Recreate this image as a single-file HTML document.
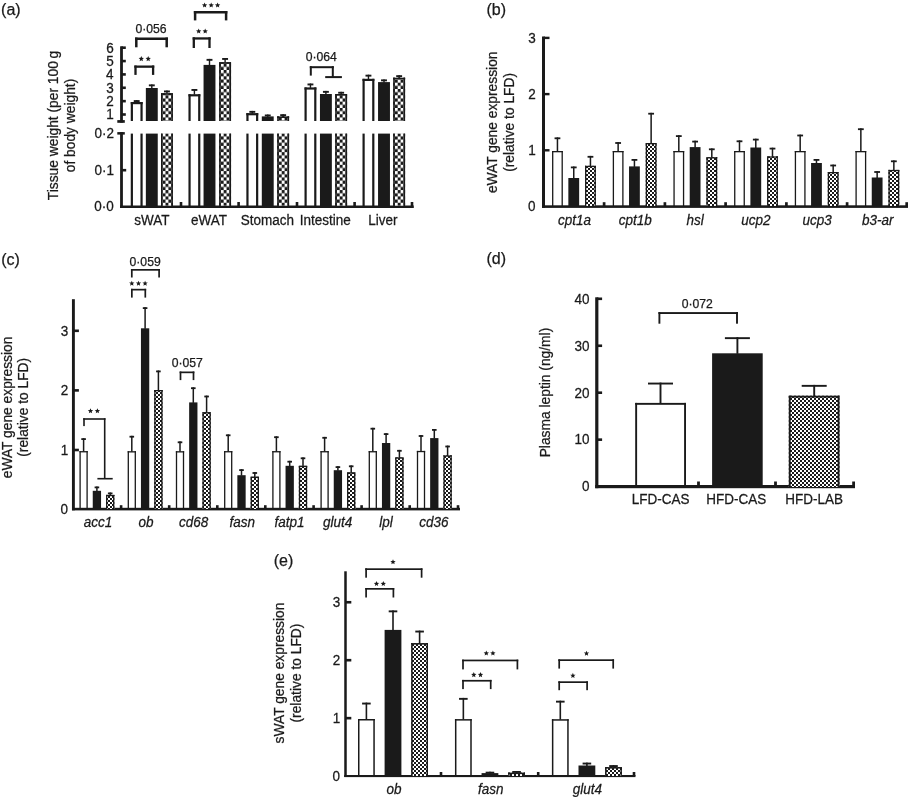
<!DOCTYPE html>
<html><head><meta charset="utf-8"><style>
html,body{margin:0;padding:0;background:#fff;}
svg{display:block;filter:blur(0.35px);}
text{font-family:"Liberation Sans",sans-serif;stroke:#1a1a1a;stroke-width:0.25px;}
</style></head><body>
<svg width="908" height="797" viewBox="0 0 908 797">
<rect width="908" height="797" fill="#fff"/>
<defs><pattern id="chkA0" patternUnits="userSpaceOnUse" x="162.600" y="133.220" width="5.800" height="6.320"><rect width="5.800" height="6.320" fill="#fff"/><rect x="2.900" y="0" width="2.900" height="3.160" fill="#1a1a1a"/><rect x="0" y="3.160" width="2.900" height="3.160" fill="#1a1a1a"/></pattern><pattern id="chkA1" patternUnits="userSpaceOnUse" x="220.750" y="133.220" width="5.800" height="6.320"><rect width="5.800" height="6.320" fill="#fff"/><rect x="2.900" y="0" width="2.900" height="3.160" fill="#1a1a1a"/><rect x="0" y="3.160" width="2.900" height="3.160" fill="#1a1a1a"/></pattern><pattern id="chkA2" patternUnits="userSpaceOnUse" x="278.800" y="133.220" width="5.800" height="6.320"><rect width="5.800" height="6.320" fill="#fff"/><rect x="2.900" y="0" width="2.900" height="3.160" fill="#1a1a1a"/><rect x="0" y="3.160" width="2.900" height="3.160" fill="#1a1a1a"/></pattern><pattern id="chkA3" patternUnits="userSpaceOnUse" x="336.800" y="133.220" width="5.800" height="6.320"><rect width="5.800" height="6.320" fill="#fff"/><rect x="2.900" y="0" width="2.900" height="3.160" fill="#1a1a1a"/><rect x="0" y="3.160" width="2.900" height="3.160" fill="#1a1a1a"/></pattern><pattern id="chkA4" patternUnits="userSpaceOnUse" x="394.800" y="133.220" width="5.800" height="6.320"><rect width="5.800" height="6.320" fill="#fff"/><rect x="2.900" y="0" width="2.900" height="3.160" fill="#1a1a1a"/><rect x="0" y="3.160" width="2.900" height="3.160" fill="#1a1a1a"/></pattern><pattern id="chkA" patternUnits="userSpaceOnUse" width="5.800" height="5.800"><rect width="5.800" height="5.800" fill="#fff"/><rect width="2.900" height="2.900" fill="#1a1a1a"/><rect x="2.900" y="2.900" width="2.900" height="2.900" fill="#1a1a1a"/></pattern><pattern id="chkB" patternUnits="userSpaceOnUse" width="4.000" height="4.000"><rect width="4.000" height="4.000" fill="#fff"/><rect width="2.000" height="2.000" fill="#1a1a1a"/><rect x="2.000" y="2.000" width="2.000" height="2.000" fill="#1a1a1a"/></pattern><pattern id="chkC" patternUnits="userSpaceOnUse" width="4.000" height="4.000"><rect width="4.000" height="4.000" fill="#fff"/><rect width="2.000" height="2.000" fill="#1a1a1a"/><rect x="2.000" y="2.000" width="2.000" height="2.000" fill="#1a1a1a"/></pattern><pattern id="chkD" patternUnits="userSpaceOnUse" width="4.000" height="4.000"><rect width="4.000" height="4.000" fill="#fff"/><rect width="2.000" height="2.000" fill="#1a1a1a"/><rect x="2.000" y="2.000" width="2.000" height="2.000" fill="#1a1a1a"/></pattern><pattern id="chkE" patternUnits="userSpaceOnUse" width="4.000" height="4.000"><rect width="4.000" height="4.000" fill="#fff"/><rect width="2.000" height="2.000" fill="#1a1a1a"/><rect x="2.000" y="2.000" width="2.000" height="2.000" fill="#1a1a1a"/></pattern></defs>
<text x="1.12" y="15.04" font-size="16.00" fill="#1a1a1a">(a)</text>
<text x="486.52" y="15.04" font-size="16.00" fill="#1a1a1a">(b)</text>
<text x="1.18" y="264.79" font-size="16.00" fill="#1a1a1a">(c)</text>
<text x="486.47" y="264.44" font-size="16.00" fill="#1a1a1a">(d)</text>
<text x="273.77" y="565.59" font-size="16.00" fill="#1a1a1a">(e)</text>
<rect x="120.10" y="46.30" width="2.80" height="76.30" fill="#1a1a1a"/>
<rect x="121.50" y="46.40" width="4.30" height="2.60" fill="#1a1a1a"/>
<text x="106.28" y="52.53" font-size="13.50" fill="#1a1a1a" transform="translate(106.28 52.53) scale(1 1.040) translate(-106.28 -52.53)">6</text>
<rect x="121.50" y="59.76" width="4.30" height="2.60" fill="#1a1a1a"/>
<text x="106.25" y="65.82" font-size="13.50" fill="#1a1a1a" transform="translate(106.25 65.82) scale(1 1.040) translate(-106.25 -65.82)">5</text>
<rect x="121.50" y="73.12" width="4.30" height="2.60" fill="#1a1a1a"/>
<text x="106.08" y="79.25" font-size="13.50" fill="#1a1a1a" transform="translate(106.08 79.25) scale(1 1.040) translate(-106.08 -79.25)">4</text>
<rect x="121.50" y="86.48" width="4.30" height="2.60" fill="#1a1a1a"/>
<text x="106.28" y="92.61" font-size="13.50" fill="#1a1a1a" transform="translate(106.28 92.61) scale(1 1.040) translate(-106.28 -92.61)">3</text>
<rect x="121.50" y="99.84" width="4.30" height="2.60" fill="#1a1a1a"/>
<text x="106.38" y="106.04" font-size="13.50" fill="#1a1a1a" transform="translate(106.38 106.04) scale(1 1.040) translate(-106.38 -106.04)">2</text>
<rect x="121.50" y="113.20" width="4.30" height="2.60" fill="#1a1a1a"/>
<text x="106.35" y="119.33" font-size="13.50" fill="#1a1a1a" transform="translate(106.35 119.33) scale(1 1.040) translate(-106.35 -119.33)">1</text>
<rect x="117.30" y="120.10" width="7.50" height="2.70" fill="#1a1a1a"/>
<rect x="117.30" y="132.10" width="7.50" height="2.50" fill="#1a1a1a"/>
<rect x="120.10" y="132.10" width="2.80" height="75.90" fill="#1a1a1a"/>
<text x="94.47" y="138.03" font-size="13.50" fill="#1a1a1a" transform="translate(94.47 138.03) scale(1 1.040) translate(-94.47 -138.03)">0·2</text>
<text x="94.43" y="174.83" font-size="13.50" fill="#1a1a1a" transform="translate(94.43 174.83) scale(1 1.040) translate(-94.43 -174.83)">0·1</text>
<text x="94.30" y="211.43" font-size="13.50" fill="#1a1a1a" transform="translate(94.30 211.43) scale(1 1.040) translate(-94.30 -211.43)">0·0</text>
<rect x="121.50" y="168.90" width="4.70" height="2.60" fill="#1a1a1a"/>
<rect x="120.00" y="205.50" width="293.80" height="2.50" fill="#1a1a1a"/>
<rect x="179.70" y="202.00" width="2.60" height="4.00" fill="#1a1a1a"/>
<rect x="237.30" y="202.00" width="2.60" height="4.00" fill="#1a1a1a"/>
<rect x="295.70" y="202.00" width="2.60" height="4.00" fill="#1a1a1a"/>
<rect x="353.30" y="202.00" width="2.60" height="4.00" fill="#1a1a1a"/>
<rect x="410.70" y="202.00" width="2.60" height="4.00" fill="#1a1a1a"/>
<rect x="130.75" y="102.00" width="2.20" height="19.00" fill="#1a1a1a"/>
<rect x="140.45" y="102.00" width="2.20" height="19.00" fill="#1a1a1a"/>
<rect x="130.75" y="102.00" width="11.90" height="2.20" fill="#1a1a1a"/>
<rect x="130.75" y="133.60" width="2.20" height="72.40" fill="#1a1a1a"/>
<rect x="140.45" y="133.60" width="2.20" height="72.40" fill="#1a1a1a"/>
<rect x="136.00" y="100.10" width="1.40" height="2.40" fill="#1a1a1a"/>
<rect x="133.75" y="100.10" width="5.90" height="1.90" fill="#1a1a1a"/>
<rect x="145.85" y="88.00" width="11.90" height="33.00" fill="#1a1a1a"/>
<rect x="145.85" y="133.60" width="11.90" height="72.40" fill="#1a1a1a"/>
<rect x="151.10" y="84.40" width="1.40" height="4.10" fill="#1a1a1a"/>
<rect x="148.85" y="84.40" width="5.90" height="1.90" fill="#1a1a1a"/>
<rect x="161.00" y="93.20" width="11.90" height="27.80" fill="url(#chkA0)"/>
<rect x="161.00" y="93.20" width="1.60" height="27.80" fill="#1a1a1a"/>
<rect x="171.30" y="93.20" width="1.60" height="27.80" fill="#1a1a1a"/>
<rect x="161.00" y="93.20" width="11.90" height="1.60" fill="#1a1a1a"/>
<rect x="161.00" y="133.60" width="11.90" height="72.40" fill="url(#chkA0)"/>
<rect x="161.00" y="133.60" width="1.60" height="72.40" fill="#1a1a1a"/>
<rect x="171.30" y="133.60" width="1.60" height="72.40" fill="#1a1a1a"/>
<rect x="166.25" y="90.50" width="1.40" height="3.20" fill="#1a1a1a"/>
<rect x="164.00" y="90.50" width="5.90" height="1.90" fill="#1a1a1a"/>
<rect x="188.45" y="94.20" width="2.20" height="26.80" fill="#1a1a1a"/>
<rect x="198.15" y="94.20" width="2.20" height="26.80" fill="#1a1a1a"/>
<rect x="188.45" y="94.20" width="11.90" height="2.20" fill="#1a1a1a"/>
<rect x="188.45" y="133.60" width="2.20" height="72.40" fill="#1a1a1a"/>
<rect x="198.15" y="133.60" width="2.20" height="72.40" fill="#1a1a1a"/>
<rect x="193.70" y="89.00" width="1.40" height="5.70" fill="#1a1a1a"/>
<rect x="191.45" y="89.00" width="5.90" height="1.90" fill="#1a1a1a"/>
<rect x="203.55" y="64.90" width="11.90" height="56.10" fill="#1a1a1a"/>
<rect x="203.55" y="133.60" width="11.90" height="72.40" fill="#1a1a1a"/>
<rect x="208.80" y="58.90" width="1.40" height="6.50" fill="#1a1a1a"/>
<rect x="206.55" y="58.90" width="5.90" height="1.90" fill="#1a1a1a"/>
<rect x="219.15" y="62.20" width="11.90" height="58.80" fill="url(#chkA1)"/>
<rect x="219.15" y="62.20" width="1.60" height="58.80" fill="#1a1a1a"/>
<rect x="229.45" y="62.20" width="1.60" height="58.80" fill="#1a1a1a"/>
<rect x="219.15" y="62.20" width="11.90" height="1.60" fill="#1a1a1a"/>
<rect x="219.15" y="133.60" width="11.90" height="72.40" fill="url(#chkA1)"/>
<rect x="219.15" y="133.60" width="1.60" height="72.40" fill="#1a1a1a"/>
<rect x="229.45" y="133.60" width="1.60" height="72.40" fill="#1a1a1a"/>
<rect x="224.40" y="58.00" width="1.40" height="4.70" fill="#1a1a1a"/>
<rect x="222.15" y="58.00" width="5.90" height="1.90" fill="#1a1a1a"/>
<rect x="246.35" y="113.10" width="2.20" height="7.90" fill="#1a1a1a"/>
<rect x="256.05" y="113.10" width="2.20" height="7.90" fill="#1a1a1a"/>
<rect x="246.35" y="113.10" width="11.90" height="2.20" fill="#1a1a1a"/>
<rect x="246.35" y="133.60" width="2.20" height="72.40" fill="#1a1a1a"/>
<rect x="256.05" y="133.60" width="2.20" height="72.40" fill="#1a1a1a"/>
<rect x="251.60" y="110.90" width="1.40" height="2.70" fill="#1a1a1a"/>
<rect x="249.35" y="110.90" width="5.90" height="1.90" fill="#1a1a1a"/>
<rect x="261.80" y="116.40" width="11.90" height="4.60" fill="#1a1a1a"/>
<rect x="261.80" y="133.60" width="11.90" height="72.40" fill="#1a1a1a"/>
<rect x="267.05" y="114.50" width="1.40" height="2.40" fill="#1a1a1a"/>
<rect x="264.80" y="114.50" width="5.90" height="1.90" fill="#1a1a1a"/>
<rect x="277.20" y="116.40" width="11.90" height="4.60" fill="url(#chkA2)"/>
<rect x="277.20" y="116.40" width="1.60" height="4.60" fill="#1a1a1a"/>
<rect x="287.50" y="116.40" width="1.60" height="4.60" fill="#1a1a1a"/>
<rect x="277.20" y="116.40" width="11.90" height="1.60" fill="#1a1a1a"/>
<rect x="277.20" y="133.60" width="11.90" height="72.40" fill="url(#chkA2)"/>
<rect x="277.20" y="133.60" width="1.60" height="72.40" fill="#1a1a1a"/>
<rect x="287.50" y="133.60" width="1.60" height="72.40" fill="#1a1a1a"/>
<rect x="282.45" y="114.20" width="1.40" height="2.70" fill="#1a1a1a"/>
<rect x="280.20" y="114.20" width="5.90" height="1.90" fill="#1a1a1a"/>
<rect x="304.50" y="87.40" width="2.20" height="33.60" fill="#1a1a1a"/>
<rect x="314.20" y="87.40" width="2.20" height="33.60" fill="#1a1a1a"/>
<rect x="304.50" y="87.40" width="11.90" height="2.20" fill="#1a1a1a"/>
<rect x="304.50" y="133.60" width="2.20" height="72.40" fill="#1a1a1a"/>
<rect x="314.20" y="133.60" width="2.20" height="72.40" fill="#1a1a1a"/>
<rect x="309.75" y="83.50" width="1.40" height="4.40" fill="#1a1a1a"/>
<rect x="307.50" y="83.50" width="5.90" height="1.90" fill="#1a1a1a"/>
<rect x="319.95" y="94.00" width="11.90" height="27.00" fill="#1a1a1a"/>
<rect x="319.95" y="133.60" width="11.90" height="72.40" fill="#1a1a1a"/>
<rect x="325.20" y="90.90" width="1.40" height="3.60" fill="#1a1a1a"/>
<rect x="322.95" y="90.90" width="5.90" height="1.90" fill="#1a1a1a"/>
<rect x="335.20" y="94.00" width="11.90" height="27.00" fill="url(#chkA3)"/>
<rect x="335.20" y="94.00" width="1.60" height="27.00" fill="#1a1a1a"/>
<rect x="345.50" y="94.00" width="1.60" height="27.00" fill="#1a1a1a"/>
<rect x="335.20" y="94.00" width="11.90" height="1.60" fill="#1a1a1a"/>
<rect x="335.20" y="133.60" width="11.90" height="72.40" fill="url(#chkA3)"/>
<rect x="335.20" y="133.60" width="1.60" height="72.40" fill="#1a1a1a"/>
<rect x="345.50" y="133.60" width="1.60" height="72.40" fill="#1a1a1a"/>
<rect x="340.45" y="91.80" width="1.40" height="2.70" fill="#1a1a1a"/>
<rect x="338.20" y="91.80" width="5.90" height="1.90" fill="#1a1a1a"/>
<rect x="362.50" y="78.80" width="2.20" height="42.20" fill="#1a1a1a"/>
<rect x="372.20" y="78.80" width="2.20" height="42.20" fill="#1a1a1a"/>
<rect x="362.50" y="78.80" width="11.90" height="2.20" fill="#1a1a1a"/>
<rect x="362.50" y="133.60" width="2.20" height="72.40" fill="#1a1a1a"/>
<rect x="372.20" y="133.60" width="2.20" height="72.40" fill="#1a1a1a"/>
<rect x="367.75" y="74.70" width="1.40" height="4.60" fill="#1a1a1a"/>
<rect x="365.50" y="74.70" width="5.90" height="1.90" fill="#1a1a1a"/>
<rect x="378.05" y="82.10" width="11.90" height="38.90" fill="#1a1a1a"/>
<rect x="378.05" y="133.60" width="11.90" height="72.40" fill="#1a1a1a"/>
<rect x="383.30" y="79.40" width="1.40" height="3.20" fill="#1a1a1a"/>
<rect x="381.05" y="79.40" width="5.90" height="1.90" fill="#1a1a1a"/>
<rect x="393.20" y="77.70" width="11.90" height="43.30" fill="url(#chkA4)"/>
<rect x="393.20" y="77.70" width="1.60" height="43.30" fill="#1a1a1a"/>
<rect x="403.50" y="77.70" width="1.60" height="43.30" fill="#1a1a1a"/>
<rect x="393.20" y="77.70" width="11.90" height="1.60" fill="#1a1a1a"/>
<rect x="393.20" y="133.60" width="11.90" height="72.40" fill="url(#chkA4)"/>
<rect x="393.20" y="133.60" width="1.60" height="72.40" fill="#1a1a1a"/>
<rect x="403.50" y="133.60" width="1.60" height="72.40" fill="#1a1a1a"/>
<rect x="398.45" y="75.20" width="1.40" height="3.00" fill="#1a1a1a"/>
<rect x="396.20" y="75.20" width="5.90" height="1.90" fill="#1a1a1a"/>
<text x="134.25" y="224.60" font-size="13.50" fill="#1a1a1a" transform="translate(134.25 224.60) scale(1 1.040) translate(-134.25 -224.60)">sWAT</text>
<text x="190.98" y="224.60" font-size="13.50" fill="#1a1a1a" transform="translate(190.98 224.60) scale(1 1.040) translate(-190.98 -224.60)">eWAT</text>
<text x="240.71" y="224.60" font-size="13.50" fill="#1a1a1a" transform="translate(240.71 224.60) scale(1 1.040) translate(-240.71 -224.60)">Stomach</text>
<text x="299.85" y="224.60" font-size="13.50" fill="#1a1a1a" transform="translate(299.85 224.60) scale(1 1.040) translate(-299.85 -224.60)">Intestine</text>
<text x="368.31" y="224.60" font-size="13.50" fill="#1a1a1a" transform="translate(368.31 224.60) scale(1 1.040) translate(-368.31 -224.60)">Liver</text>
<text x="58.20" y="200.19" font-size="13.80" fill="#1a1a1a" transform="rotate(-90 58.20 200.19)">Tissue weight (per 100 g</text>
<text x="74.87" y="172.26" font-size="13.80" fill="#1a1a1a" transform="rotate(-90 74.87 172.26)">of body weight)</text>
<rect x="134.35" y="65.50" width="19.90" height="2.30" fill="#1a1a1a"/>
<rect x="134.35" y="65.50" width="2.30" height="9.40" fill="#1a1a1a"/>
<rect x="151.95" y="65.50" width="2.30" height="9.40" fill="#1a1a1a"/>
<polygon points="141.30,56.07 142.04,57.85 143.96,58.00 142.50,59.26 142.95,61.13 141.30,60.13 139.65,61.13 140.10,59.26 138.64,58.00 140.56,57.85" fill="#1a1a1a"/>
<polygon points="148.20,56.07 148.94,57.85 150.86,58.00 149.40,59.26 149.85,61.13 148.20,60.13 146.55,61.13 147.00,59.26 145.54,58.00 147.46,57.85" fill="#1a1a1a"/>
<rect x="135.05" y="37.50" width="32.90" height="2.50" fill="#1a1a1a"/>
<rect x="135.05" y="37.50" width="2.50" height="9.80" fill="#1a1a1a"/>
<rect x="165.45" y="37.50" width="2.50" height="9.80" fill="#1a1a1a"/>
<text x="135.46" y="32.81" font-size="12.20" fill="#1a1a1a">0·056</text>
<rect x="192.65" y="37.30" width="18.00" height="2.30" fill="#1a1a1a"/>
<rect x="192.65" y="37.30" width="2.30" height="10.70" fill="#1a1a1a"/>
<rect x="208.35" y="37.30" width="2.30" height="10.70" fill="#1a1a1a"/>
<polygon points="198.70,28.47 199.44,30.25 201.36,30.40 199.90,31.66 200.35,33.53 198.70,32.53 197.05,33.53 197.50,31.66 196.04,30.40 197.96,30.25" fill="#1a1a1a"/>
<polygon points="205.20,28.47 205.94,30.25 207.86,30.40 206.40,31.66 206.85,33.53 205.20,32.53 203.55,33.53 204.00,31.66 202.54,30.40 204.46,30.25" fill="#1a1a1a"/>
<rect x="193.85" y="11.00" width="33.50" height="2.50" fill="#1a1a1a"/>
<rect x="193.85" y="11.00" width="2.50" height="9.40" fill="#1a1a1a"/>
<rect x="224.85" y="11.00" width="2.50" height="9.40" fill="#1a1a1a"/>
<polygon points="204.60,2.47 205.34,4.25 207.26,4.40 205.80,5.66 206.25,7.53 204.60,6.53 202.95,7.53 203.40,5.66 201.94,4.40 203.86,4.25" fill="#1a1a1a"/>
<polygon points="211.20,2.47 211.94,4.25 213.86,4.40 212.40,5.66 212.85,7.53 211.20,6.53 209.55,7.53 210.00,5.66 208.54,4.40 210.46,4.25" fill="#1a1a1a"/>
<polygon points="217.60,2.47 218.34,4.25 220.26,4.40 218.80,5.66 219.25,7.53 217.60,6.53 215.95,7.53 216.40,5.66 214.94,4.40 216.86,4.25" fill="#1a1a1a"/>
<rect x="309.80" y="66.20" width="24.00" height="2.00" fill="#1a1a1a"/>
<rect x="309.80" y="66.20" width="2.00" height="9.40" fill="#1a1a1a"/>
<rect x="331.80" y="66.20" width="2.00" height="11.30" fill="#1a1a1a"/>
<rect x="325.20" y="76.10" width="16.70" height="2.00" fill="#1a1a1a"/>
<text x="305.67" y="61.41" font-size="12.20" fill="#1a1a1a">0·064</text>
<rect x="542.00" y="36.50" width="3.00" height="171.30" fill="#1a1a1a"/>
<rect x="543.50" y="36.70" width="6.00" height="2.40" fill="#1a1a1a"/>
<text x="528.18" y="42.73" font-size="13.50" fill="#1a1a1a" transform="translate(528.18 42.73) scale(1 1.040) translate(-528.18 -42.73)">3</text>
<rect x="543.50" y="92.90" width="6.00" height="2.40" fill="#1a1a1a"/>
<text x="528.28" y="99.00" font-size="13.50" fill="#1a1a1a" transform="translate(528.28 99.00) scale(1 1.040) translate(-528.28 -99.00)">2</text>
<rect x="543.50" y="149.10" width="6.00" height="2.40" fill="#1a1a1a"/>
<text x="528.25" y="155.13" font-size="13.50" fill="#1a1a1a" transform="translate(528.25 155.13) scale(1 1.040) translate(-528.25 -155.13)">1</text>
<text x="528.11" y="211.13" font-size="13.50" fill="#1a1a1a" transform="translate(528.11 211.13) scale(1 1.040) translate(-528.11 -211.13)">0</text>
<rect x="542.00" y="205.30" width="366.00" height="2.60" fill="#1a1a1a"/>
<rect x="602.75" y="202.20" width="2.70" height="3.80" fill="#1a1a1a"/>
<rect x="663.55" y="202.20" width="2.70" height="3.80" fill="#1a1a1a"/>
<rect x="724.25" y="202.20" width="2.70" height="3.80" fill="#1a1a1a"/>
<rect x="785.05" y="202.20" width="2.70" height="3.80" fill="#1a1a1a"/>
<rect x="845.75" y="202.20" width="2.70" height="3.80" fill="#1a1a1a"/>
<rect x="905.35" y="202.20" width="2.70" height="3.80" fill="#1a1a1a"/>
<rect x="552.05" y="151.00" width="1.30" height="55.00" fill="#1a1a1a"/>
<rect x="561.55" y="151.00" width="1.30" height="55.00" fill="#1a1a1a"/>
<rect x="552.05" y="151.00" width="10.80" height="1.30" fill="#1a1a1a"/>
<rect x="556.70" y="137.40" width="1.50" height="14.10" fill="#1a1a1a"/>
<rect x="554.55" y="137.40" width="5.80" height="1.80" fill="#1a1a1a"/>
<rect x="568.35" y="178.00" width="10.80" height="28.00" fill="#1a1a1a"/>
<rect x="573.00" y="166.50" width="1.50" height="12.00" fill="#1a1a1a"/>
<rect x="570.85" y="166.50" width="5.80" height="1.80" fill="#1a1a1a"/>
<rect x="585.05" y="165.80" width="10.80" height="40.20" fill="url(#chkB)"/>
<rect x="585.05" y="165.80" width="1.30" height="40.20" fill="#1a1a1a"/>
<rect x="594.55" y="165.80" width="1.30" height="40.20" fill="#1a1a1a"/>
<rect x="585.05" y="165.80" width="10.80" height="1.30" fill="#1a1a1a"/>
<rect x="589.70" y="155.90" width="1.50" height="10.40" fill="#1a1a1a"/>
<rect x="587.55" y="155.90" width="5.80" height="1.80" fill="#1a1a1a"/>
<rect x="612.73" y="151.00" width="1.30" height="55.00" fill="#1a1a1a"/>
<rect x="622.23" y="151.00" width="1.30" height="55.00" fill="#1a1a1a"/>
<rect x="612.73" y="151.00" width="10.80" height="1.30" fill="#1a1a1a"/>
<rect x="617.38" y="142.10" width="1.50" height="9.40" fill="#1a1a1a"/>
<rect x="615.23" y="142.10" width="5.80" height="1.80" fill="#1a1a1a"/>
<rect x="629.03" y="166.40" width="10.80" height="39.60" fill="#1a1a1a"/>
<rect x="633.68" y="159.00" width="1.50" height="7.90" fill="#1a1a1a"/>
<rect x="631.53" y="159.00" width="5.80" height="1.80" fill="#1a1a1a"/>
<rect x="645.73" y="143.00" width="10.80" height="63.00" fill="url(#chkB)"/>
<rect x="645.73" y="143.00" width="1.30" height="63.00" fill="#1a1a1a"/>
<rect x="655.23" y="143.00" width="1.30" height="63.00" fill="#1a1a1a"/>
<rect x="645.73" y="143.00" width="10.80" height="1.30" fill="#1a1a1a"/>
<rect x="650.38" y="112.80" width="1.50" height="30.70" fill="#1a1a1a"/>
<rect x="648.23" y="112.80" width="5.80" height="1.80" fill="#1a1a1a"/>
<rect x="673.41" y="151.00" width="1.30" height="55.00" fill="#1a1a1a"/>
<rect x="682.91" y="151.00" width="1.30" height="55.00" fill="#1a1a1a"/>
<rect x="673.41" y="151.00" width="10.80" height="1.30" fill="#1a1a1a"/>
<rect x="678.06" y="135.20" width="1.50" height="16.30" fill="#1a1a1a"/>
<rect x="675.91" y="135.20" width="5.80" height="1.80" fill="#1a1a1a"/>
<rect x="689.71" y="147.10" width="10.80" height="58.90" fill="#1a1a1a"/>
<rect x="694.36" y="140.70" width="1.50" height="6.90" fill="#1a1a1a"/>
<rect x="692.21" y="140.70" width="5.80" height="1.80" fill="#1a1a1a"/>
<rect x="706.41" y="157.20" width="10.80" height="48.80" fill="url(#chkB)"/>
<rect x="706.41" y="157.20" width="1.30" height="48.80" fill="#1a1a1a"/>
<rect x="715.91" y="157.20" width="1.30" height="48.80" fill="#1a1a1a"/>
<rect x="706.41" y="157.20" width="10.80" height="1.30" fill="#1a1a1a"/>
<rect x="711.06" y="148.40" width="1.50" height="9.30" fill="#1a1a1a"/>
<rect x="708.91" y="148.40" width="5.80" height="1.80" fill="#1a1a1a"/>
<rect x="734.09" y="151.00" width="1.30" height="55.00" fill="#1a1a1a"/>
<rect x="743.59" y="151.00" width="1.30" height="55.00" fill="#1a1a1a"/>
<rect x="734.09" y="151.00" width="10.80" height="1.30" fill="#1a1a1a"/>
<rect x="738.74" y="140.40" width="1.50" height="11.10" fill="#1a1a1a"/>
<rect x="736.59" y="140.40" width="5.80" height="1.80" fill="#1a1a1a"/>
<rect x="750.39" y="147.50" width="10.80" height="58.50" fill="#1a1a1a"/>
<rect x="755.04" y="138.70" width="1.50" height="9.30" fill="#1a1a1a"/>
<rect x="752.89" y="138.70" width="5.80" height="1.80" fill="#1a1a1a"/>
<rect x="767.09" y="156.40" width="10.80" height="49.60" fill="url(#chkB)"/>
<rect x="767.09" y="156.40" width="1.30" height="49.60" fill="#1a1a1a"/>
<rect x="776.59" y="156.40" width="1.30" height="49.60" fill="#1a1a1a"/>
<rect x="767.09" y="156.40" width="10.80" height="1.30" fill="#1a1a1a"/>
<rect x="771.74" y="147.70" width="1.50" height="9.20" fill="#1a1a1a"/>
<rect x="769.59" y="147.70" width="5.80" height="1.80" fill="#1a1a1a"/>
<rect x="794.77" y="151.00" width="1.30" height="55.00" fill="#1a1a1a"/>
<rect x="804.27" y="151.00" width="1.30" height="55.00" fill="#1a1a1a"/>
<rect x="794.77" y="151.00" width="10.80" height="1.30" fill="#1a1a1a"/>
<rect x="799.42" y="134.60" width="1.50" height="16.90" fill="#1a1a1a"/>
<rect x="797.27" y="134.60" width="5.80" height="1.80" fill="#1a1a1a"/>
<rect x="811.07" y="163.00" width="10.80" height="43.00" fill="#1a1a1a"/>
<rect x="815.72" y="159.00" width="1.50" height="4.50" fill="#1a1a1a"/>
<rect x="813.57" y="159.00" width="5.80" height="1.80" fill="#1a1a1a"/>
<rect x="827.77" y="172.00" width="10.80" height="34.00" fill="url(#chkB)"/>
<rect x="827.77" y="172.00" width="1.30" height="34.00" fill="#1a1a1a"/>
<rect x="837.27" y="172.00" width="1.30" height="34.00" fill="#1a1a1a"/>
<rect x="827.77" y="172.00" width="10.80" height="1.30" fill="#1a1a1a"/>
<rect x="832.42" y="164.60" width="1.50" height="7.90" fill="#1a1a1a"/>
<rect x="830.27" y="164.60" width="5.80" height="1.80" fill="#1a1a1a"/>
<rect x="855.45" y="151.00" width="1.30" height="55.00" fill="#1a1a1a"/>
<rect x="864.95" y="151.00" width="1.30" height="55.00" fill="#1a1a1a"/>
<rect x="855.45" y="151.00" width="10.80" height="1.30" fill="#1a1a1a"/>
<rect x="860.10" y="128.30" width="1.50" height="23.20" fill="#1a1a1a"/>
<rect x="857.95" y="128.30" width="5.80" height="1.80" fill="#1a1a1a"/>
<rect x="871.75" y="177.50" width="10.80" height="28.50" fill="#1a1a1a"/>
<rect x="876.40" y="171.10" width="1.50" height="6.90" fill="#1a1a1a"/>
<rect x="874.25" y="171.10" width="5.80" height="1.80" fill="#1a1a1a"/>
<rect x="888.45" y="169.90" width="10.80" height="36.10" fill="url(#chkB)"/>
<rect x="888.45" y="169.90" width="1.30" height="36.10" fill="#1a1a1a"/>
<rect x="897.95" y="169.90" width="1.30" height="36.10" fill="#1a1a1a"/>
<rect x="888.45" y="169.90" width="10.80" height="1.30" fill="#1a1a1a"/>
<rect x="893.10" y="160.40" width="1.50" height="10.00" fill="#1a1a1a"/>
<rect x="890.95" y="160.40" width="5.80" height="1.80" fill="#1a1a1a"/>
<text x="558.00" y="224.80" font-size="13.50" font-style="italic" fill="#1a1a1a" transform="translate(558.00 224.80) scale(1 1.040) translate(-558.00 -224.80)">cpt1a</text>
<text x="618.78" y="224.80" font-size="13.50" font-style="italic" fill="#1a1a1a" transform="translate(618.78 224.80) scale(1 1.040) translate(-618.78 -224.80)">cpt1b</text>
<text x="686.51" y="224.80" font-size="13.50" font-style="italic" fill="#1a1a1a" transform="translate(686.51 224.80) scale(1 1.040) translate(-686.51 -224.80)">hsl</text>
<text x="741.37" y="224.80" font-size="13.50" font-style="italic" fill="#1a1a1a" transform="translate(741.37 224.80) scale(1 1.040) translate(-741.37 -224.80)">ucp2</text>
<text x="802.53" y="224.80" font-size="13.50" font-style="italic" fill="#1a1a1a" transform="translate(802.53 224.80) scale(1 1.040) translate(-802.53 -224.80)">ucp3</text>
<text x="862.00" y="224.80" font-size="13.50" font-style="italic" fill="#1a1a1a" transform="translate(862.00 224.80) scale(1 1.040) translate(-862.00 -224.80)">b3-ar</text>
<text x="497.00" y="193.12" font-size="13.80" fill="#1a1a1a" transform="rotate(-90 497.00 193.12)">eWAT gene expression</text>
<text x="513.92" y="171.81" font-size="13.80" fill="#1a1a1a" transform="rotate(-90 513.92 171.81)">(relative to LFD)</text>
<rect x="71.95" y="299.20" width="2.90" height="211.10" fill="#1a1a1a"/>
<rect x="73.40" y="329.50" width="5.50" height="2.60" fill="#1a1a1a"/>
<text x="60.68" y="335.63" font-size="13.50" fill="#1a1a1a" transform="translate(60.68 335.63) scale(1 1.040) translate(-60.68 -335.63)">3</text>
<rect x="73.40" y="389.10" width="5.50" height="2.60" fill="#1a1a1a"/>
<text x="60.78" y="395.30" font-size="13.50" fill="#1a1a1a" transform="translate(60.78 395.30) scale(1 1.040) translate(-60.78 -395.30)">2</text>
<rect x="73.40" y="448.70" width="5.50" height="2.60" fill="#1a1a1a"/>
<text x="60.75" y="454.83" font-size="13.50" fill="#1a1a1a" transform="translate(60.75 454.83) scale(1 1.040) translate(-60.75 -454.83)">1</text>
<text x="60.61" y="514.13" font-size="13.50" fill="#1a1a1a" transform="translate(60.61 514.13) scale(1 1.040) translate(-60.61 -514.13)">0</text>
<rect x="72.00" y="507.80" width="388.00" height="2.60" fill="#1a1a1a"/>
<rect x="119.80" y="505.20" width="2.60" height="3.80" fill="#1a1a1a"/>
<rect x="167.90" y="505.20" width="2.60" height="3.80" fill="#1a1a1a"/>
<rect x="216.00" y="505.20" width="2.60" height="3.80" fill="#1a1a1a"/>
<rect x="264.00" y="505.20" width="2.60" height="3.80" fill="#1a1a1a"/>
<rect x="312.30" y="505.20" width="2.60" height="3.80" fill="#1a1a1a"/>
<rect x="360.30" y="505.20" width="2.60" height="3.80" fill="#1a1a1a"/>
<rect x="408.40" y="505.20" width="2.60" height="3.80" fill="#1a1a1a"/>
<rect x="456.70" y="505.20" width="2.60" height="3.80" fill="#1a1a1a"/>
<rect x="79.45" y="451.10" width="1.30" height="57.90" fill="#1a1a1a"/>
<rect x="86.45" y="451.10" width="1.30" height="57.90" fill="#1a1a1a"/>
<rect x="79.45" y="451.10" width="8.30" height="1.30" fill="#1a1a1a"/>
<rect x="82.85" y="438.20" width="1.50" height="13.40" fill="#1a1a1a"/>
<rect x="81.30" y="438.20" width="4.60" height="1.80" fill="#1a1a1a"/>
<rect x="92.75" y="490.80" width="8.30" height="18.20" fill="#1a1a1a"/>
<rect x="96.15" y="486.50" width="1.50" height="4.80" fill="#1a1a1a"/>
<rect x="94.60" y="486.50" width="4.60" height="1.80" fill="#1a1a1a"/>
<rect x="106.05" y="494.90" width="8.30" height="14.10" fill="url(#chkC)"/>
<rect x="106.05" y="494.90" width="1.30" height="14.10" fill="#1a1a1a"/>
<rect x="113.05" y="494.90" width="1.30" height="14.10" fill="#1a1a1a"/>
<rect x="106.05" y="494.90" width="8.30" height="1.30" fill="#1a1a1a"/>
<rect x="109.45" y="492.50" width="1.50" height="2.90" fill="#1a1a1a"/>
<rect x="107.90" y="492.50" width="4.60" height="1.80" fill="#1a1a1a"/>
<rect x="127.65" y="451.20" width="1.30" height="57.80" fill="#1a1a1a"/>
<rect x="134.65" y="451.20" width="1.30" height="57.80" fill="#1a1a1a"/>
<rect x="127.65" y="451.20" width="8.30" height="1.30" fill="#1a1a1a"/>
<rect x="131.05" y="435.80" width="1.50" height="15.90" fill="#1a1a1a"/>
<rect x="129.50" y="435.80" width="4.60" height="1.80" fill="#1a1a1a"/>
<rect x="140.95" y="328.30" width="8.30" height="180.70" fill="#1a1a1a"/>
<rect x="144.35" y="307.20" width="1.50" height="21.60" fill="#1a1a1a"/>
<rect x="142.80" y="307.20" width="4.60" height="1.80" fill="#1a1a1a"/>
<rect x="154.25" y="390.00" width="8.30" height="119.00" fill="url(#chkC)"/>
<rect x="154.25" y="390.00" width="1.30" height="119.00" fill="#1a1a1a"/>
<rect x="161.25" y="390.00" width="1.30" height="119.00" fill="#1a1a1a"/>
<rect x="154.25" y="390.00" width="8.30" height="1.30" fill="#1a1a1a"/>
<rect x="157.65" y="370.50" width="1.50" height="20.00" fill="#1a1a1a"/>
<rect x="156.10" y="370.50" width="4.60" height="1.80" fill="#1a1a1a"/>
<rect x="175.85" y="451.20" width="1.30" height="57.80" fill="#1a1a1a"/>
<rect x="182.85" y="451.20" width="1.30" height="57.80" fill="#1a1a1a"/>
<rect x="175.85" y="451.20" width="8.30" height="1.30" fill="#1a1a1a"/>
<rect x="179.25" y="441.40" width="1.50" height="10.30" fill="#1a1a1a"/>
<rect x="177.70" y="441.40" width="4.60" height="1.80" fill="#1a1a1a"/>
<rect x="189.15" y="402.40" width="8.30" height="106.60" fill="#1a1a1a"/>
<rect x="192.55" y="387.30" width="1.50" height="15.60" fill="#1a1a1a"/>
<rect x="191.00" y="387.30" width="4.60" height="1.80" fill="#1a1a1a"/>
<rect x="202.45" y="412.20" width="8.30" height="96.80" fill="url(#chkC)"/>
<rect x="202.45" y="412.20" width="1.30" height="96.80" fill="#1a1a1a"/>
<rect x="209.45" y="412.20" width="1.30" height="96.80" fill="#1a1a1a"/>
<rect x="202.45" y="412.20" width="8.30" height="1.30" fill="#1a1a1a"/>
<rect x="205.85" y="395.60" width="1.50" height="17.10" fill="#1a1a1a"/>
<rect x="204.30" y="395.60" width="4.60" height="1.80" fill="#1a1a1a"/>
<rect x="224.05" y="451.10" width="1.30" height="57.90" fill="#1a1a1a"/>
<rect x="231.05" y="451.10" width="1.30" height="57.90" fill="#1a1a1a"/>
<rect x="224.05" y="451.10" width="8.30" height="1.30" fill="#1a1a1a"/>
<rect x="227.45" y="434.40" width="1.50" height="17.20" fill="#1a1a1a"/>
<rect x="225.90" y="434.40" width="4.60" height="1.80" fill="#1a1a1a"/>
<rect x="237.35" y="475.20" width="8.30" height="33.80" fill="#1a1a1a"/>
<rect x="240.75" y="469.20" width="1.50" height="6.50" fill="#1a1a1a"/>
<rect x="239.20" y="469.20" width="4.60" height="1.80" fill="#1a1a1a"/>
<rect x="250.65" y="476.70" width="8.30" height="32.30" fill="url(#chkC)"/>
<rect x="250.65" y="476.70" width="1.30" height="32.30" fill="#1a1a1a"/>
<rect x="257.65" y="476.70" width="1.30" height="32.30" fill="#1a1a1a"/>
<rect x="250.65" y="476.70" width="8.30" height="1.30" fill="#1a1a1a"/>
<rect x="254.05" y="472.10" width="1.50" height="5.10" fill="#1a1a1a"/>
<rect x="252.50" y="472.10" width="4.60" height="1.80" fill="#1a1a1a"/>
<rect x="272.25" y="451.10" width="1.30" height="57.90" fill="#1a1a1a"/>
<rect x="279.25" y="451.10" width="1.30" height="57.90" fill="#1a1a1a"/>
<rect x="272.25" y="451.10" width="8.30" height="1.30" fill="#1a1a1a"/>
<rect x="275.65" y="436.30" width="1.50" height="15.30" fill="#1a1a1a"/>
<rect x="274.10" y="436.30" width="4.60" height="1.80" fill="#1a1a1a"/>
<rect x="285.55" y="465.80" width="8.30" height="43.20" fill="#1a1a1a"/>
<rect x="288.95" y="460.80" width="1.50" height="5.50" fill="#1a1a1a"/>
<rect x="287.40" y="460.80" width="4.60" height="1.80" fill="#1a1a1a"/>
<rect x="298.85" y="465.80" width="8.30" height="43.20" fill="url(#chkC)"/>
<rect x="298.85" y="465.80" width="1.30" height="43.20" fill="#1a1a1a"/>
<rect x="305.85" y="465.80" width="1.30" height="43.20" fill="#1a1a1a"/>
<rect x="298.85" y="465.80" width="8.30" height="1.30" fill="#1a1a1a"/>
<rect x="302.25" y="457.40" width="1.50" height="8.90" fill="#1a1a1a"/>
<rect x="300.70" y="457.40" width="4.60" height="1.80" fill="#1a1a1a"/>
<rect x="320.45" y="451.10" width="1.30" height="57.90" fill="#1a1a1a"/>
<rect x="327.45" y="451.10" width="1.30" height="57.90" fill="#1a1a1a"/>
<rect x="320.45" y="451.10" width="8.30" height="1.30" fill="#1a1a1a"/>
<rect x="323.85" y="436.90" width="1.50" height="14.70" fill="#1a1a1a"/>
<rect x="322.30" y="436.90" width="4.60" height="1.80" fill="#1a1a1a"/>
<rect x="333.75" y="470.20" width="8.30" height="38.80" fill="#1a1a1a"/>
<rect x="337.15" y="466.20" width="1.50" height="4.50" fill="#1a1a1a"/>
<rect x="335.60" y="466.20" width="4.60" height="1.80" fill="#1a1a1a"/>
<rect x="347.05" y="472.40" width="8.30" height="36.60" fill="url(#chkC)"/>
<rect x="347.05" y="472.40" width="1.30" height="36.60" fill="#1a1a1a"/>
<rect x="354.05" y="472.40" width="1.30" height="36.60" fill="#1a1a1a"/>
<rect x="347.05" y="472.40" width="8.30" height="1.30" fill="#1a1a1a"/>
<rect x="350.45" y="465.40" width="1.50" height="7.50" fill="#1a1a1a"/>
<rect x="348.90" y="465.40" width="4.60" height="1.80" fill="#1a1a1a"/>
<rect x="368.65" y="451.10" width="1.30" height="57.90" fill="#1a1a1a"/>
<rect x="375.65" y="451.10" width="1.30" height="57.90" fill="#1a1a1a"/>
<rect x="368.65" y="451.10" width="8.30" height="1.30" fill="#1a1a1a"/>
<rect x="372.05" y="427.80" width="1.50" height="23.80" fill="#1a1a1a"/>
<rect x="370.50" y="427.80" width="4.60" height="1.80" fill="#1a1a1a"/>
<rect x="381.95" y="443.00" width="8.30" height="66.00" fill="#1a1a1a"/>
<rect x="385.35" y="433.20" width="1.50" height="10.30" fill="#1a1a1a"/>
<rect x="383.80" y="433.20" width="4.60" height="1.80" fill="#1a1a1a"/>
<rect x="395.25" y="457.40" width="8.30" height="51.60" fill="url(#chkC)"/>
<rect x="395.25" y="457.40" width="1.30" height="51.60" fill="#1a1a1a"/>
<rect x="402.25" y="457.40" width="1.30" height="51.60" fill="#1a1a1a"/>
<rect x="395.25" y="457.40" width="8.30" height="1.30" fill="#1a1a1a"/>
<rect x="398.65" y="449.90" width="1.50" height="8.00" fill="#1a1a1a"/>
<rect x="397.10" y="449.90" width="4.60" height="1.80" fill="#1a1a1a"/>
<rect x="416.85" y="450.90" width="1.30" height="58.10" fill="#1a1a1a"/>
<rect x="423.85" y="450.90" width="1.30" height="58.10" fill="#1a1a1a"/>
<rect x="416.85" y="450.90" width="8.30" height="1.30" fill="#1a1a1a"/>
<rect x="420.25" y="435.10" width="1.50" height="16.30" fill="#1a1a1a"/>
<rect x="418.70" y="435.10" width="4.60" height="1.80" fill="#1a1a1a"/>
<rect x="430.15" y="438.10" width="8.30" height="70.90" fill="#1a1a1a"/>
<rect x="433.55" y="429.00" width="1.50" height="9.60" fill="#1a1a1a"/>
<rect x="432.00" y="429.00" width="4.60" height="1.80" fill="#1a1a1a"/>
<rect x="443.45" y="455.40" width="8.30" height="53.60" fill="url(#chkC)"/>
<rect x="443.45" y="455.40" width="1.30" height="53.60" fill="#1a1a1a"/>
<rect x="450.45" y="455.40" width="1.30" height="53.60" fill="#1a1a1a"/>
<rect x="443.45" y="455.40" width="8.30" height="1.30" fill="#1a1a1a"/>
<rect x="446.85" y="445.60" width="1.50" height="10.30" fill="#1a1a1a"/>
<rect x="445.30" y="445.60" width="4.60" height="1.80" fill="#1a1a1a"/>
<text x="83.66" y="527.40" font-size="13.50" font-style="italic" fill="#1a1a1a" transform="translate(83.66 527.40) scale(1 1.040) translate(-83.66 -527.40)">acc1</text>
<text x="138.39" y="527.40" font-size="13.50" font-style="italic" fill="#1a1a1a" transform="translate(138.39 527.40) scale(1 1.040) translate(-138.39 -527.40)">ob</text>
<text x="179.08" y="527.40" font-size="13.50" font-style="italic" fill="#1a1a1a" transform="translate(179.08 527.40) scale(1 1.040) translate(-179.08 -527.40)">cd68</text>
<text x="229.61" y="527.40" font-size="13.50" font-style="italic" fill="#1a1a1a" transform="translate(229.61 527.40) scale(1 1.040) translate(-229.61 -527.40)">fasn</text>
<text x="274.62" y="527.40" font-size="13.50" font-style="italic" fill="#1a1a1a" transform="translate(274.62 527.40) scale(1 1.040) translate(-274.62 -527.40)">fatp1</text>
<text x="322.91" y="527.40" font-size="13.50" font-style="italic" fill="#1a1a1a" transform="translate(322.91 527.40) scale(1 1.040) translate(-322.91 -527.40)">glut4</text>
<text x="379.18" y="527.40" font-size="13.50" font-style="italic" fill="#1a1a1a" transform="translate(379.18 527.40) scale(1 1.040) translate(-379.18 -527.40)">lpl</text>
<text x="419.25" y="527.40" font-size="13.50" font-style="italic" fill="#1a1a1a" transform="translate(419.25 527.40) scale(1 1.040) translate(-419.25 -527.40)">cd36</text>
<text x="11.60" y="478.27" font-size="13.80" fill="#1a1a1a" transform="rotate(-90 11.60 478.27)">eWAT gene expression</text>
<text x="28.32" y="456.76" font-size="13.80" fill="#1a1a1a" transform="rotate(-90 28.32 456.76)">(relative to LFD)</text>
<rect x="83.20" y="418.20" width="22.30" height="1.60" fill="#1a1a1a"/>
<rect x="83.20" y="418.20" width="1.60" height="7.90" fill="#1a1a1a"/>
<rect x="103.90" y="418.20" width="1.60" height="60.80" fill="#1a1a1a"/>
<rect x="97.40" y="477.90" width="15.30" height="1.60" fill="#1a1a1a"/>
<polygon points="90.50,408.27 91.24,410.05 93.16,410.20 91.70,411.46 92.15,413.33 90.50,412.33 88.85,413.33 89.30,411.46 87.84,410.20 89.76,410.05" fill="#1a1a1a"/>
<polygon points="97.40,408.27 98.14,410.05 100.06,410.20 98.60,411.46 99.05,413.33 97.40,412.33 95.75,413.33 96.20,411.46 94.74,410.20 96.66,410.05" fill="#1a1a1a"/>
<rect x="131.00" y="288.80" width="15.15" height="1.70" fill="#1a1a1a"/>
<rect x="131.00" y="288.80" width="1.70" height="8.80" fill="#1a1a1a"/>
<rect x="144.45" y="288.80" width="1.70" height="8.80" fill="#1a1a1a"/>
<polygon points="131.80,280.67 132.54,282.45 134.46,282.60 133.00,283.86 133.45,285.73 131.80,284.73 130.15,285.73 130.60,283.86 129.14,282.60 131.06,282.45" fill="#1a1a1a"/>
<polygon points="138.50,280.67 139.24,282.45 141.16,282.60 139.70,283.86 140.15,285.73 138.50,284.73 136.85,285.73 137.30,283.86 135.84,282.60 137.76,282.45" fill="#1a1a1a"/>
<polygon points="145.10,280.67 145.84,282.45 147.76,282.60 146.30,283.86 146.75,285.73 145.10,284.73 143.45,285.73 143.90,283.86 142.44,282.60 144.36,282.45" fill="#1a1a1a"/>
<rect x="130.95" y="269.00" width="29.00" height="1.70" fill="#1a1a1a"/>
<rect x="130.95" y="269.00" width="1.70" height="8.50" fill="#1a1a1a"/>
<rect x="158.25" y="269.00" width="1.70" height="8.50" fill="#1a1a1a"/>
<text x="129.53" y="266.01" font-size="12.20" fill="#1a1a1a">0·059</text>
<rect x="179.65" y="371.50" width="14.70" height="1.70" fill="#1a1a1a"/>
<rect x="179.65" y="371.50" width="1.70" height="8.60" fill="#1a1a1a"/>
<rect x="192.65" y="371.50" width="1.70" height="8.60" fill="#1a1a1a"/>
<text x="171.66" y="366.51" font-size="12.20" fill="#1a1a1a">0·057</text>
<rect x="595.20" y="297.30" width="3.20" height="190.90" fill="#1a1a1a"/>
<rect x="596.80" y="297.50" width="5.30" height="2.60" fill="#1a1a1a"/>
<text x="574.52" y="303.63" font-size="13.50" fill="#1a1a1a" transform="translate(574.52 303.63) scale(1 1.040) translate(-574.52 -303.63)">40</text>
<rect x="596.80" y="344.45" width="5.30" height="2.60" fill="#1a1a1a"/>
<text x="574.52" y="350.58" font-size="13.50" fill="#1a1a1a" transform="translate(574.52 350.58) scale(1 1.040) translate(-574.52 -350.58)">30</text>
<rect x="596.80" y="391.40" width="5.30" height="2.60" fill="#1a1a1a"/>
<text x="574.52" y="397.53" font-size="13.50" fill="#1a1a1a" transform="translate(574.52 397.53) scale(1 1.040) translate(-574.52 -397.53)">20</text>
<rect x="596.80" y="438.35" width="5.30" height="2.60" fill="#1a1a1a"/>
<text x="574.52" y="444.48" font-size="13.50" fill="#1a1a1a" transform="translate(574.52 444.48) scale(1 1.040) translate(-574.52 -444.48)">10</text>
<text x="582.01" y="491.13" font-size="13.50" fill="#1a1a1a" transform="translate(582.01 491.13) scale(1 1.040) translate(-582.01 -491.13)">0</text>
<rect x="595.20" y="485.00" width="259.80" height="3.20" fill="#1a1a1a"/>
<rect x="697.10" y="481.50" width="2.80" height="4.50" fill="#1a1a1a"/>
<rect x="774.10" y="481.50" width="2.80" height="4.50" fill="#1a1a1a"/>
<rect x="852.20" y="481.50" width="2.80" height="4.50" fill="#1a1a1a"/>
<rect x="635.20" y="402.90" width="1.90" height="84.10" fill="#1a1a1a"/>
<rect x="684.10" y="402.90" width="1.90" height="84.10" fill="#1a1a1a"/>
<rect x="635.20" y="402.90" width="50.80" height="1.90" fill="#1a1a1a"/>
<rect x="659.55" y="382.60" width="1.90" height="20.80" fill="#1a1a1a"/>
<rect x="648.00" y="382.60" width="25.00" height="1.90" fill="#1a1a1a"/>
<rect x="712.10" y="353.30" width="50.60" height="133.70" fill="#1a1a1a"/>
<rect x="736.45" y="337.20" width="1.90" height="16.60" fill="#1a1a1a"/>
<rect x="724.90" y="337.20" width="25.00" height="1.90" fill="#1a1a1a"/>
<rect x="788.80" y="395.70" width="50.70" height="91.30" fill="url(#chkD)"/>
<rect x="788.80" y="395.70" width="1.90" height="91.30" fill="#1a1a1a"/>
<rect x="837.60" y="395.70" width="1.90" height="91.30" fill="#1a1a1a"/>
<rect x="788.80" y="395.70" width="50.70" height="1.90" fill="#1a1a1a"/>
<rect x="813.25" y="384.90" width="1.90" height="11.30" fill="#1a1a1a"/>
<rect x="801.70" y="384.90" width="25.00" height="1.90" fill="#1a1a1a"/>
<rect x="658.45" y="312.10" width="79.50" height="1.90" fill="#1a1a1a"/>
<rect x="658.45" y="312.10" width="1.90" height="11.60" fill="#1a1a1a"/>
<rect x="736.05" y="312.10" width="1.90" height="11.60" fill="#1a1a1a"/>
<text x="681.71" y="307.91" font-size="12.20" fill="#1a1a1a">0·072</text>
<text x="631.77" y="504.30" font-size="13.50" fill="#1a1a1a" transform="translate(631.77 504.30) scale(1 1.040) translate(-631.77 -504.30)">LFD-CAS</text>
<text x="706.36" y="504.30" font-size="13.50" fill="#1a1a1a" transform="translate(706.36 504.30) scale(1 1.040) translate(-706.36 -504.30)">HFD-CAS</text>
<text x="785.31" y="504.30" font-size="13.50" fill="#1a1a1a" transform="translate(785.31 504.30) scale(1 1.040) translate(-785.31 -504.30)">HFD-LAB</text>
<text x="550.32" y="457.35" font-size="13.80" fill="#1a1a1a" transform="rotate(-90 550.32 457.35)">Plasma leptin (ng/ml)</text>
<rect x="344.25" y="571.30" width="2.50" height="205.70" fill="#1a1a1a"/>
<rect x="345.50" y="600.95" width="5.80" height="2.60" fill="#1a1a1a"/>
<text x="332.68" y="607.08" font-size="13.50" fill="#1a1a1a" transform="translate(332.68 607.08) scale(1 1.040) translate(-332.68 -607.08)">3</text>
<rect x="345.50" y="658.90" width="5.80" height="2.60" fill="#1a1a1a"/>
<text x="332.78" y="665.10" font-size="13.50" fill="#1a1a1a" transform="translate(332.78 665.10) scale(1 1.040) translate(-332.78 -665.10)">2</text>
<rect x="345.50" y="716.85" width="5.80" height="2.60" fill="#1a1a1a"/>
<text x="332.75" y="722.98" font-size="13.50" fill="#1a1a1a" transform="translate(332.75 722.98) scale(1 1.040) translate(-332.75 -722.98)">1</text>
<text x="332.61" y="781.13" font-size="13.50" fill="#1a1a1a" transform="translate(332.61 781.13) scale(1 1.040) translate(-332.61 -781.13)">0</text>
<rect x="344.20" y="775.00" width="291.30" height="2.10" fill="#1a1a1a"/>
<rect x="439.70" y="772.00" width="2.60" height="4.00" fill="#1a1a1a"/>
<rect x="536.90" y="772.00" width="2.60" height="4.00" fill="#1a1a1a"/>
<rect x="632.70" y="772.00" width="2.60" height="4.00" fill="#1a1a1a"/>
<rect x="358.00" y="719.00" width="1.50" height="57.00" fill="#1a1a1a"/>
<rect x="373.30" y="719.00" width="1.50" height="57.00" fill="#1a1a1a"/>
<rect x="358.00" y="719.00" width="16.80" height="1.50" fill="#1a1a1a"/>
<rect x="365.60" y="702.60" width="1.60" height="16.90" fill="#1a1a1a"/>
<rect x="362.10" y="702.60" width="8.60" height="1.90" fill="#1a1a1a"/>
<rect x="384.60" y="629.90" width="16.80" height="146.10" fill="#1a1a1a"/>
<rect x="392.20" y="610.40" width="1.60" height="20.00" fill="#1a1a1a"/>
<rect x="388.70" y="610.40" width="8.60" height="1.90" fill="#1a1a1a"/>
<rect x="411.20" y="643.10" width="16.80" height="132.90" fill="url(#chkE)"/>
<rect x="411.20" y="643.10" width="1.50" height="132.90" fill="#1a1a1a"/>
<rect x="426.50" y="643.10" width="1.50" height="132.90" fill="#1a1a1a"/>
<rect x="411.20" y="643.10" width="16.80" height="1.50" fill="#1a1a1a"/>
<rect x="418.80" y="630.60" width="1.60" height="13.00" fill="#1a1a1a"/>
<rect x="415.30" y="630.60" width="8.60" height="1.90" fill="#1a1a1a"/>
<rect x="454.95" y="719.10" width="1.50" height="56.90" fill="#1a1a1a"/>
<rect x="470.25" y="719.10" width="1.50" height="56.90" fill="#1a1a1a"/>
<rect x="454.95" y="719.10" width="16.80" height="1.50" fill="#1a1a1a"/>
<rect x="462.55" y="697.90" width="1.60" height="21.70" fill="#1a1a1a"/>
<rect x="459.05" y="697.90" width="8.60" height="1.90" fill="#1a1a1a"/>
<rect x="481.55" y="773.10" width="16.80" height="2.90" fill="#1a1a1a"/>
<rect x="489.15" y="771.70" width="1.60" height="1.90" fill="#1a1a1a"/>
<rect x="485.65" y="771.70" width="8.60" height="1.90" fill="#1a1a1a"/>
<rect x="508.15" y="772.60" width="16.80" height="3.40" fill="url(#chkE)"/>
<rect x="508.15" y="772.60" width="1.50" height="3.40" fill="#1a1a1a"/>
<rect x="523.45" y="772.60" width="1.50" height="3.40" fill="#1a1a1a"/>
<rect x="508.15" y="772.60" width="16.80" height="1.50" fill="#1a1a1a"/>
<rect x="515.75" y="771.00" width="1.60" height="2.10" fill="#1a1a1a"/>
<rect x="512.25" y="771.00" width="8.60" height="1.90" fill="#1a1a1a"/>
<rect x="551.90" y="719.20" width="1.50" height="56.80" fill="#1a1a1a"/>
<rect x="567.20" y="719.20" width="1.50" height="56.80" fill="#1a1a1a"/>
<rect x="551.90" y="719.20" width="16.80" height="1.50" fill="#1a1a1a"/>
<rect x="559.50" y="700.70" width="1.60" height="19.00" fill="#1a1a1a"/>
<rect x="556.00" y="700.70" width="8.60" height="1.90" fill="#1a1a1a"/>
<rect x="578.50" y="765.50" width="16.80" height="10.50" fill="#1a1a1a"/>
<rect x="586.10" y="762.60" width="1.60" height="3.40" fill="#1a1a1a"/>
<rect x="582.60" y="762.60" width="8.60" height="1.90" fill="#1a1a1a"/>
<rect x="605.10" y="767.10" width="16.80" height="8.90" fill="url(#chkE)"/>
<rect x="605.10" y="767.10" width="1.50" height="8.90" fill="#1a1a1a"/>
<rect x="620.40" y="767.10" width="1.50" height="8.90" fill="#1a1a1a"/>
<rect x="605.10" y="767.10" width="16.80" height="1.50" fill="#1a1a1a"/>
<rect x="612.70" y="765.10" width="1.60" height="2.50" fill="#1a1a1a"/>
<rect x="609.20" y="765.10" width="8.60" height="1.90" fill="#1a1a1a"/>
<text x="386.39" y="793.90" font-size="13.50" font-style="italic" fill="#1a1a1a" transform="translate(386.39 793.90) scale(1 1.040) translate(-386.39 -793.90)">ob</text>
<text x="478.01" y="793.90" font-size="13.50" font-style="italic" fill="#1a1a1a" transform="translate(478.01 793.90) scale(1 1.040) translate(-478.01 -793.90)">fasn</text>
<text x="572.81" y="793.90" font-size="13.50" font-style="italic" fill="#1a1a1a" transform="translate(572.81 793.90) scale(1 1.040) translate(-572.81 -793.90)">glut4</text>
<text x="284.20" y="743.42" font-size="13.80" fill="#1a1a1a" transform="rotate(-90 284.20 743.42)">sWAT gene expression</text>
<text x="300.82" y="722.51" font-size="13.80" fill="#1a1a1a" transform="rotate(-90 300.82 722.51)">(relative to LFD)</text>
<rect x="365.25" y="568.30" width="57.20" height="1.70" fill="#1a1a1a"/>
<rect x="365.25" y="568.30" width="1.70" height="9.40" fill="#1a1a1a"/>
<rect x="420.75" y="568.30" width="1.70" height="9.40" fill="#1a1a1a"/>
<polygon points="393.00,559.27 393.74,561.05 395.66,561.20 394.20,562.46 394.65,564.33 393.00,563.33 391.35,564.33 391.80,562.46 390.34,561.20 392.26,561.05" fill="#1a1a1a"/>
<rect x="365.25" y="588.00" width="29.00" height="1.70" fill="#1a1a1a"/>
<rect x="365.25" y="588.00" width="1.70" height="9.50" fill="#1a1a1a"/>
<rect x="392.55" y="588.00" width="1.70" height="9.50" fill="#1a1a1a"/>
<polygon points="376.50,580.97 377.24,582.75 379.16,582.90 377.70,584.16 378.15,586.03 376.50,585.03 374.85,586.03 375.30,584.16 373.84,582.90 375.76,582.75" fill="#1a1a1a"/>
<polygon points="383.30,580.97 384.04,582.75 385.96,582.90 384.50,584.16 384.95,586.03 383.30,585.03 381.65,586.03 382.10,584.16 380.64,582.90 382.56,582.75" fill="#1a1a1a"/>
<rect x="462.15" y="659.60" width="56.10" height="1.70" fill="#1a1a1a"/>
<rect x="462.15" y="659.60" width="1.70" height="9.80" fill="#1a1a1a"/>
<rect x="516.55" y="659.60" width="1.70" height="9.80" fill="#1a1a1a"/>
<polygon points="486.30,650.47 487.04,652.25 488.96,652.40 487.50,653.66 487.95,655.53 486.30,654.53 484.65,655.53 485.10,653.66 483.64,652.40 485.56,652.25" fill="#1a1a1a"/>
<polygon points="492.90,650.47 493.64,652.25 495.56,652.40 494.10,653.66 494.55,655.53 492.90,654.53 491.25,655.53 491.70,653.66 490.24,652.40 492.16,652.25" fill="#1a1a1a"/>
<rect x="462.15" y="679.90" width="29.40" height="1.70" fill="#1a1a1a"/>
<rect x="462.15" y="679.90" width="1.70" height="9.20" fill="#1a1a1a"/>
<rect x="489.85" y="679.90" width="1.70" height="9.20" fill="#1a1a1a"/>
<polygon points="473.80,672.07 474.54,673.85 476.46,674.00 475.00,675.26 475.45,677.13 473.80,676.13 472.15,677.13 472.60,675.26 471.14,674.00 473.06,673.85" fill="#1a1a1a"/>
<polygon points="480.50,672.07 481.24,673.85 483.16,674.00 481.70,675.26 482.15,677.13 480.50,676.13 478.85,677.13 479.30,675.26 477.84,674.00 479.76,673.85" fill="#1a1a1a"/>
<rect x="558.35" y="659.30" width="55.70" height="1.70" fill="#1a1a1a"/>
<rect x="558.35" y="659.30" width="1.70" height="9.30" fill="#1a1a1a"/>
<rect x="612.35" y="659.30" width="1.70" height="9.30" fill="#1a1a1a"/>
<polygon points="586.50,650.67 587.24,652.45 589.16,652.60 587.70,653.86 588.15,655.73 586.50,654.73 584.85,655.73 585.30,653.86 583.84,652.60 585.76,652.45" fill="#1a1a1a"/>
<rect x="558.35" y="681.30" width="29.60" height="1.70" fill="#1a1a1a"/>
<rect x="558.35" y="681.30" width="1.70" height="8.90" fill="#1a1a1a"/>
<rect x="586.25" y="681.30" width="1.70" height="8.90" fill="#1a1a1a"/>
<polygon points="572.90,672.87 573.64,674.65 575.56,674.80 574.10,676.06 574.55,677.93 572.90,676.93 571.25,677.93 571.70,676.06 570.24,674.80 572.16,674.65" fill="#1a1a1a"/>
</svg>
</body></html>
